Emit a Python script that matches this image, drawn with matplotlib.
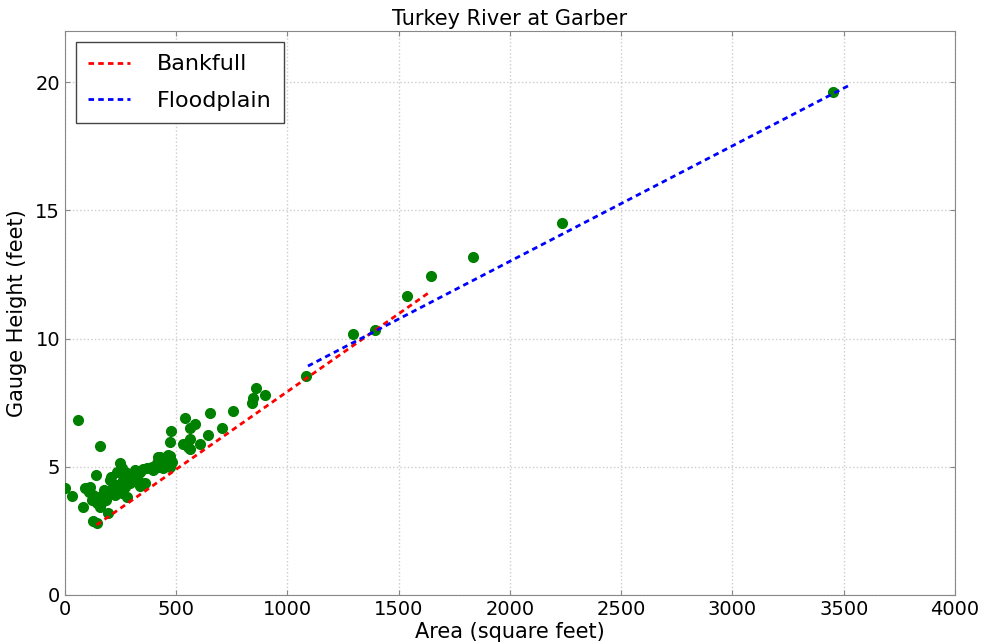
import matplotlib
matplotlib.use('Agg')
import matplotlib.pyplot as plt

# measured cross-sections: area (sq ft) vs gauge height (ft)
area = [0, 33, 60, 82, 90, 112, 127, 142, 138, 157, 193,
        126, 148, 121, 144, 166, 157, 202, 216, 193, 225,
        247, 256, 234, 279, 301, 292, 261, 270, 256, 279,
        315, 337, 328, 360, 337, 369, 396, 418,
        391, 413, 427, 440, 463, 481, 472, 449, 405, 418, 472,
        110, 175, 185, 230, 205, 290, 310, 350,
        476, 472, 539, 562, 584, 530, 562, 562, 553, 607, 643,
        652, 706, 754, 840, 843, 858, 899,
        1082, 1293, 1393, 1536, 1643, 1834, 2234, 3450]
height = [4.17, 3.85, 6.82, 3.45, 4.17, 4.2, 2.9, 2.8, 4.68, 5.8, 3.2,
          3.9, 3.82, 3.7, 3.59, 3.63, 3.43, 4.5, 4.2, 3.98, 3.9,
          5.15, 4.95, 4.8, 4.76, 4.56, 4.37, 4.48, 4.2, 3.98, 3.82,
          4.87, 4.8, 4.48, 4.37, 4.25, 4.95, 4.87, 5.0,
          5.0, 5.15, 5.38, 4.95, 5.46, 5.19, 5.0, 5.26, 5.0, 5.38, 5.42,
          4.0, 4.1, 3.7, 4.3, 4.6, 4.6, 4.7, 4.9,
          6.4, 5.98, 6.9, 6.5, 6.67, 5.9, 6.1, 5.7, 5.77, 5.9, 6.24,
          7.08, 6.5, 7.19, 7.5, 7.7, 8.07, 7.8,
          8.54, 10.17, 10.33, 11.66, 12.44, 13.19, 14.5, 19.62]

# fitted lines (end points)
bank_x = [142, 1640]
bank_y = [2.73, 11.82]
flood_x = [1092, 3520]
flood_y = [8.93, 19.86]

fig = plt.figure(figsize=(9.84, 6.44), dpi=100)
ax = fig.add_axes([0.066, 0.0761, 0.9045, 0.8758])

ax.plot(area, height, 'o', color='green', mec='green', ms=7, zorder=3)
ax.plot(bank_x, bank_y, color='red', lw=2, dashes=(2, 1.5), label='Bankfull', zorder=4)
ax.plot(flood_x, flood_y, color='blue', lw=2, dashes=(2, 1.5), label='Floodplain', zorder=4)

ax.set_xlim(0, 4000)
ax.set_ylim(0, 22)
ax.set_xticks(range(0, 4001, 500))
ax.set_yticks([0, 5, 10, 15, 20])
ax.grid(True, color='#cccccc', linestyle=':', lw=1)
ax.tick_params(labelsize=14, direction='in', top=True, right=True, color='#888888')
for s in ax.spines.values():
    s.set_color('#888888')

ax.set_title('Turkey River at Garber', fontsize=15, pad=4)
ax.set_xlabel('Area (square feet)', fontsize=15, labelpad=2)
ax.set_ylabel('Gauge Height (feet)', fontsize=15, labelpad=6)
leg = ax.legend(loc='upper left', fontsize=16, fancybox=False, framealpha=1,
                handlelength=1.9, handletextpad=1.2, borderpad=0.55,
                labelspacing=0.75)
leg.get_frame().set_edgecolor('#444444')

plt.savefig('out.png', dpi=100)
